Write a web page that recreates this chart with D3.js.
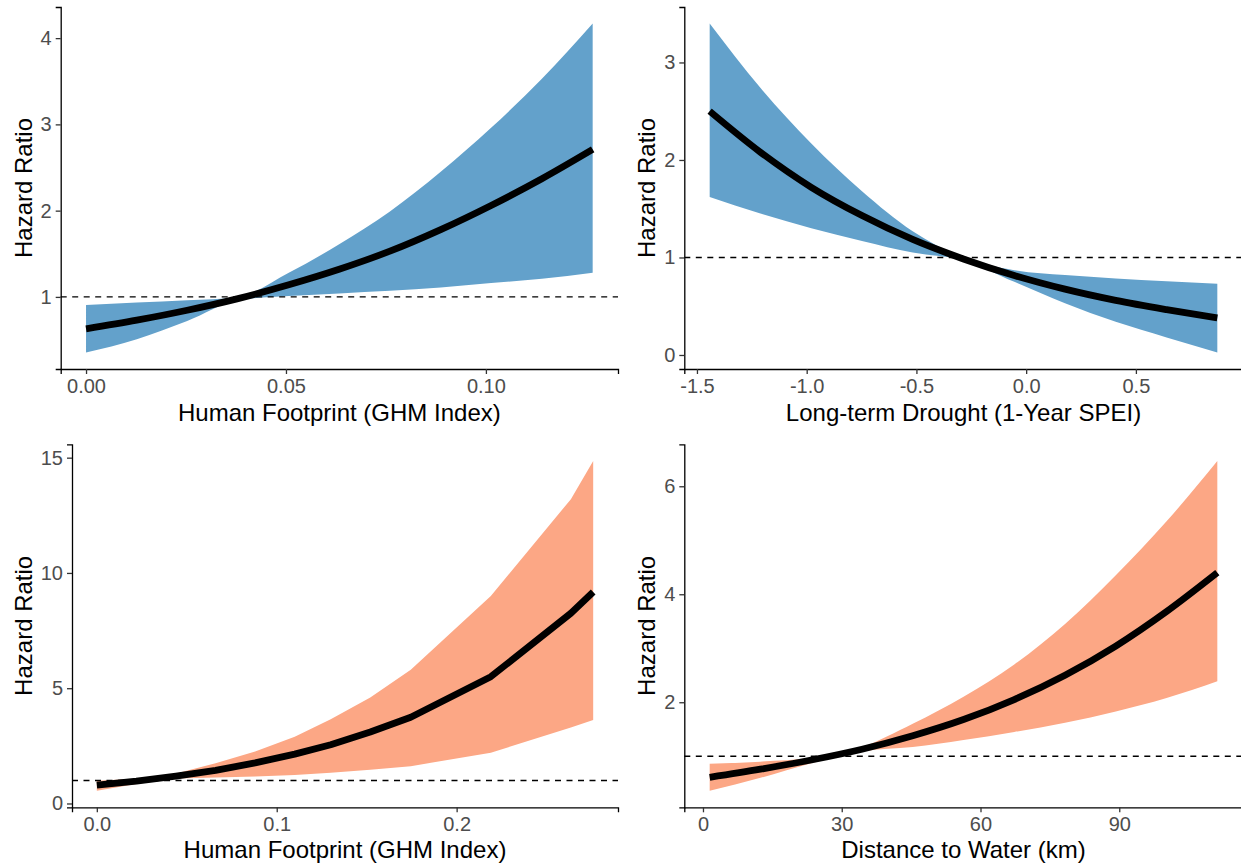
<!DOCTYPE html>
<html>
<head>
<meta charset="utf-8">
<script src="https://cdn.jsdelivr.net/npm/d3@7"></script>
<style>
  body { margin: 0; background: #fff; }
  svg { display: block; font-family: 'Liberation Sans', Arial, sans-serif; }
</style>
</head>
<body>
<div id="chart"></div>
<script>
// Panel A: human footprint (GHM index)
const ghmX    = [0, 0.0127, 0.0253, 0.038, 0.0507, 0.0633, 0.076, 0.0887, 0.1013, 0.114, 0.1267];
const ghmFit  = [0.63, 0.73, 0.845, 0.98, 1.14, 1.32, 1.53, 1.78, 2.06, 2.37, 2.71];
const ghmLow  = [0.355, 0.51, 0.72, 0.96, 1.01, 1.04, 1.07, 1.11, 1.16, 1.21, 1.28];
const ghmHigh = [0.907, 0.935, 0.96, 1.0, 1.28, 1.61, 1.99, 2.45, 2.96, 3.53, 4.17];

// Panel B: long-term drought (1-year SPEI)
const speiX    = [-1.442, -1.211, -0.979, -0.748, -0.517, -0.286, -0.054, 0.177, 0.408, 0.640, 0.871];
const speiFit  = [2.5, 2.08, 1.72, 1.43, 1.185, 0.985, 0.815, 0.675, 0.56, 0.465, 0.38];
const speiLow  = [1.62, 1.45, 1.30, 1.17, 1.05, 0.97, 0.75, 0.53, 0.34, 0.18, 0.025];
const speiHigh = [3.4, 2.74, 2.17, 1.68, 1.27, 1.0, 0.87, 0.82, 0.785, 0.755, 0.73];

// Panel C: human footprint, second model
const ghm2X    = [0, 0.022, 0.044, 0.066, 0.088, 0.11, 0.13, 0.152, 0.1745, 0.219, 0.2635, 0.2759];
const ghm2Fit  = [0.8, 0.97, 1.19, 1.44, 1.76, 2.14, 2.55, 3.1, 3.74, 5.5, 8.25, 9.17];
const ghm2Low  = [0.55, 0.85, 1.08, 1.13, 1.17, 1.24, 1.33, 1.46, 1.62, 2.2, 3.3, 3.62];
const ghm2High = [0.99, 1.07, 1.3, 1.75, 2.25, 2.9, 3.65, 4.6, 5.8, 9.0, 13.2, 14.86];

// Panel D: distance to water (km)
const waterX    = [1.45, 12.43, 23.4, 34.38, 45.35, 56.33, 67.3, 78.28, 89.25, 100.23, 111.2];
const waterFit  = [0.61, 0.76, 0.93, 1.13, 1.38, 1.68, 2.05, 2.5, 3.04, 3.68, 4.4];
const waterLow  = [0.36, 0.6, 0.87, 1.09, 1.17, 1.3, 1.45, 1.62, 1.83, 2.08, 2.39];
const waterHigh = [0.86, 0.9, 0.97, 1.17, 1.6, 2.1, 2.7, 3.45, 4.35, 5.35, 6.47];

// Tick values
const ghmTicksX   = [0, 0.05, 0.10];
const ghmTicksY   = [1, 2, 3, 4];
const speiTicksX  = [-1.5, -1.0, -0.5, 0.0, 0.5];
const speiTicksY  = [0, 1, 2, 3];
const ghm2TicksX  = [0, 0.1, 0.2];
const ghm2TicksY  = [0, 5, 10, 15];
const waterTicksX = [0, 30, 60, 90];
const waterTicksY = [2, 4, 6];

const BLUE = '#63a1cb';
const SALMON = '#fca785';

const svg = d3.select('#chart').append('svg')
    .attr('width', 1241)
    .attr('height', 867);

const panels = [
  { x: ghmX, fit: ghmFit, lo: ghmLow, hi: ghmHigh, fill: BLUE,
    xTicks: ghmTicksX, xFmt: d => d.toFixed(2), yTicks: ghmTicksY,
    xTitle: 'Human Footprint (GHM Index)', curve: d3.curveMonotoneX,
    left: 60.7, right: 618, top: 7, bottom: 369, yTitleX: 31.7, xTitleY: 420.7 },
  { x: speiX, fit: speiFit, lo: speiLow, hi: speiHigh, fill: BLUE,
    xTicks: speiTicksX, xFmt: d => d.toFixed(1), yTicks: speiTicksY,
    xTitle: 'Long-term Drought (1-Year SPEI)', curve: d3.curveMonotoneX,
    left: 684.3, right: 1242.7, top: 7, bottom: 369, yTitleX: 655, xTitleY: 420.7 },
  // this model's prediction grid is coarse at the top end, so keep straight segments
  { x: ghm2X, fit: ghm2Fit, lo: ghm2Low, hi: ghm2High, fill: SALMON,
    xTicks: ghm2TicksX, xFmt: d => d.toFixed(1), yTicks: ghm2TicksY,
    xTitle: 'Human Footprint (GHM Index)', curve: d3.curveLinear,
    left: 72, right: 618, top: 444.4, bottom: 807.3, yTitleX: 31.7, xTitleY: 857.5 },
  { x: waterX, fit: waterFit, lo: waterLow, hi: waterHigh, fill: SALMON,
    xTicks: waterTicksX, xFmt: d => d.toFixed(0), yTicks: waterTicksY,
    xTitle: 'Distance to Water (km)', curve: d3.curveMonotoneX,
    left: 684.3, right: 1242.7, top: 444.4, bottom: 807.3, yTitleX: 655, xTitleY: 857.5 }
];

// ggplot-style 5% expansion of a data range
function expand(ext) {
  const pad = (ext[1] - ext[0]) * 0.05;
  return [ext[0] - pad, ext[1] + pad];
}

panels.forEach(p => {
  const rows = p.x.map((x, i) => ({ x: x, fit: p.fit[i], lo: p.lo[i], hi: p.hi[i] }));

  const xScale = d3.scaleLinear()
      .domain(expand(d3.extent(p.x)))
      .range([p.left, p.right]);
  const yScale = d3.scaleLinear()
      .domain(expand([d3.min(p.lo), d3.max(p.hi)]))
      .range([p.bottom, p.top]);

  const g = svg.append('g');

  // confidence band
  g.append('path')
      .datum(rows)
      .attr('fill', p.fill)
      .attr('d', d3.area()
        .curve(p.curve)
        .x(d => xScale(d.x))
        .y0(d => yScale(d.lo))
        .y1(d => yScale(d.hi)));

  // reference line at HR = 1
  g.append('line')
      .attr('x1', p.left)
      .attr('x2', p.right)
      .attr('y1', yScale(1))
      .attr('y2', yScale(1))
      .attr('stroke', '#000')
      .attr('stroke-width', 1.4)
      .attr('stroke-dasharray', '6,5.5');

  // fitted hazard ratio
  g.append('path')
      .datum(rows)
      .attr('fill', 'none')
      .attr('stroke', '#000')
      .attr('stroke-width', 6.8)
      .attr('stroke-linejoin', 'round')
      .attr('d', d3.line()
        .curve(p.curve)
        .x(d => xScale(d.x))
        .y(d => yScale(d.fit)));

  // axes
  const xAxisG = g.append('g')
      .attr('transform', `translate(0,${p.bottom})`)
      .call(d3.axisBottom(xScale)
        .tickValues(p.xTicks)
        .tickFormat(p.xFmt)
        .tickSizeOuter(0)
        .tickSize(5)
        .tickPadding(5));

  const yAxisG = g.append('g')
      .attr('transform', `translate(${p.left},0)`)
      .call(d3.axisLeft(yScale)
        .tickValues(p.yTicks)
        .tickFormat(d3.format('d'))
        .tickSizeOuter(0)
        .tickSize(5)
        .tickPadding(4));

  [xAxisG, yAxisG].forEach(a => {
    a.attr('font-family', null).attr('font-size', null);
    a.select('.domain').attr('stroke', '#000').attr('stroke-width', 1.3);
    a.selectAll('.tick line').attr('stroke', '#333').attr('stroke-width', 1.3);
    a.selectAll('.tick text')
        .attr('fill', '#4d4d4d')
        .style('font-size', '20px');
  });

  // axis titles
  g.append('text')
      .attr('x', (p.left + p.right) / 2)
      .attr('y', p.xTitleY)
      .attr('text-anchor', 'middle')
      .style('font-size', '24px')
      .attr('fill', '#000')
      .text(p.xTitle);

  g.append('text')
      .attr('transform', `translate(${p.yTitleX},${(p.top + p.bottom) / 2}) rotate(-90)`)
      .attr('text-anchor', 'middle')
      .style('font-size', '24px')
      .attr('fill', '#000')
      .text('Hazard Ratio');
});
</script>
</body>
</html>
